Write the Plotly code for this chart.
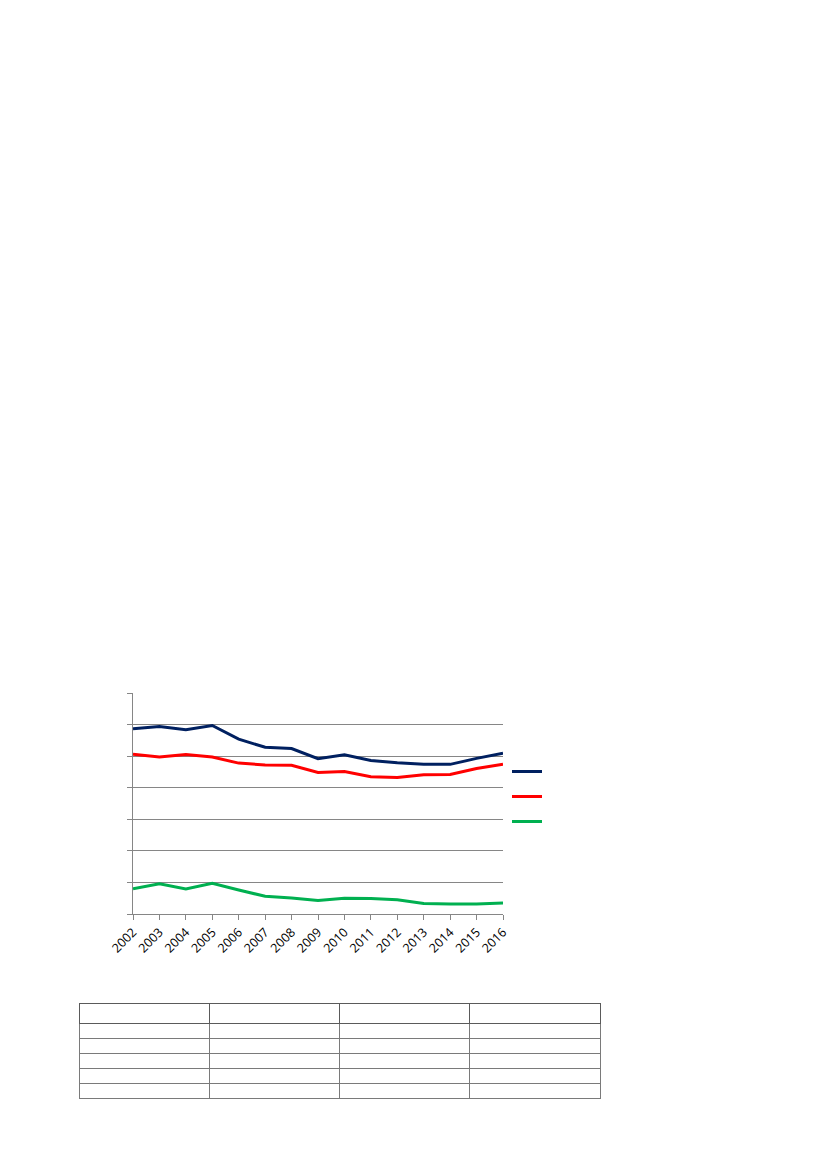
import plotly.graph_objects as go

years = [2002, 2003, 2004, 2005, 2006, 2007, 2008, 2009, 2010, 2011, 2012, 2013, 2014, 2015, 2016]
series_blue = [5.87, 5.94, 5.84, 5.97, 5.54, 5.28, 5.24, 4.92, 5.04, 4.86, 4.79, 4.74, 4.74, 4.93, 5.09]
series_red = [5.06, 4.97, 5.05, 4.97, 4.78, 4.72, 4.71, 4.48, 4.51, 4.35, 4.32, 4.41, 4.42, 4.61, 4.74]
series_green = [0.80, 0.96, 0.79, 0.97, 0.76, 0.56, 0.51, 0.43, 0.50, 0.49, 0.45, 0.33, 0.32, 0.32, 0.35]
year_labels = [str(y) for y in years]

W, H = 827, 1169
OFF = 8  # page body margin offset
fig = go.Figure()
for i, (vals, col) in enumerate([(series_blue, "#002060"), (series_red, "#FF0000"), (series_green, "#00B050")]):
    fig.add_trace(go.Scatter(x=years, y=vals, mode="lines", name=" ",
                             line=dict(color=col, width=3), legendgroup=str(i)))

table_header = ["", "", "", ""]
table_cells = [["", "", "", "", ""] for _ in range(4)]
fig.add_trace(go.Table(
    domain=dict(x=[(79 - OFF) / W, (600 - OFF) / W], y=[(H - 1100 + OFF) / H, (H - 1003 + OFF) / H]),
    header=dict(values=table_header, height=20, fill_color="white",
                line=dict(color="#5a5a5a", width=1)),
    cells=dict(values=table_cells, height=15, fill_color="white",
               line=dict(color="#7a7a7a", width=1)),
))

fig.update_layout(
    width=W, height=H, autosize=False,
    margin=dict(l=0, r=0, t=0, b=0, autoexpand=False),
    paper_bgcolor="white", plot_bgcolor="white",
    font=dict(family="Liberation Sans, Arial, sans-serif", color="#000000"),
    showlegend=True,
    legend=dict(x=499 / W, y=(H - 749) / H, xanchor="left", yanchor="top",
                tracegroupgap=6, font=dict(size=12), bgcolor="rgba(0,0,0,0)"),
    xaxis=dict(domain=[(133 - OFF) / W, (503 - OFF) / W], range=[2002, 2016], tickmode="array",
               tickvals=years, ticktext=year_labels, tickangle=-45, automargin=False,
               showgrid=False, showline=True, linecolor="#868686", linewidth=1,
               ticks="outside", ticklen=5, tickcolor="#868686",
               tickfont=dict(size=12.5, family="Open Sans, sans-serif"), zeroline=False),
    yaxis=dict(domain=[(H - 914 + OFF) / H, (H - 693 + OFF) / H], range=[0, 7], dtick=1, automargin=False,
               showgrid=True, gridcolor="#868686", gridwidth=1,
               showline=True, linecolor="#868686", linewidth=1,
               ticks="outside", ticklen=5, tickcolor="#868686",
               showticklabels=False, zeroline=False),
)

fig.write_html("out.html")
